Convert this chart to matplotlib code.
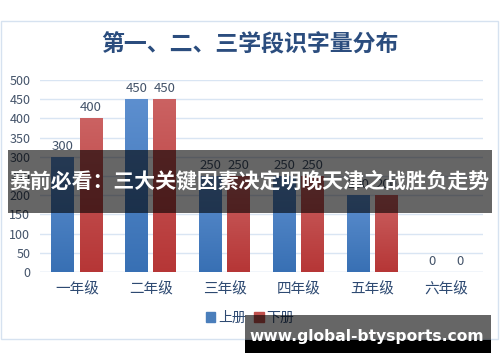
import matplotlib
matplotlib.use("Agg")
import matplotlib.pyplot as plt
import numpy as np
from matplotlib.patches import Rectangle
from matplotlib.colors import LinearSegmentedColormap

plt.rcParams['font.family'] = ['Noto Sans CJK SC', 'DejaVu Sans']

title = "第一、二、三学段识字量分布"
categories = ["一年级", "二年级", "三年级", "四年级", "五年级", "六年级"]
series_names = ["上册", "下册"]
upper = [300, 450, 250, 250, 200, 0]
lower = [400, 450, 250, 250, 200, 0]
yticks = [0, 50, 100, 150, 200, 250, 300, 350, 400, 450, 500]
banner_text = "赛前必看：三大关键因素决定明晚天津之战胜负走势"
watermark_text = "www.global-btysports.com"

W, H = 500, 362
fig = plt.figure(figsize=(W / 100, H / 100), dpi=100)
fig.patch.set_facecolor("white")

# chart frame
frame = Rectangle((1 / W, 1 - 339 / H), 497 / W, (339 - 21) / H, transform=fig.transFigure,
                  facecolor="white", edgecolor="#d6e2f0", linewidth=1.0, zorder=-5)
fig.patches.append(frame)

fig.text(0.5, 1 - 45 / H, title, ha="center", va="center", fontsize=16.5,
         color="#2b4d7e", fontweight="bold")

ax_left, ax_right = 40 / W, 483 / W
ax_top, ax_bot = 1 - 80 / H, 1 - 272 / H
ax = fig.add_axes([ax_left, ax_bot, ax_right - ax_left, ax_top - ax_bot])
ax.set_facecolor("none")
ax.set_ylim(0, 500)
ax.set_xlim(-0.5, len(categories) - 0.5)
ax.set_yticks(yticks)
ax.yaxis.grid(True, color="#d9e5f3", linewidth=1.0)
ax.set_axisbelow(True)
for s in ax.spines.values():
    s.set_visible(False)
ax.tick_params(axis="y", length=0, labelsize=9, labelcolor="#44546a", pad=7)
ax.tick_params(axis="x", length=0, labelsize=10.5, labelcolor="#2e4a72", pad=7)
ax.set_yticklabels([str(v) for v in yticks])
x = np.arange(len(categories))
ax.set_xticks(x)
ax.set_xticklabels(categories)
ax.axhline(0, color="#d9e5f3", linewidth=1.0)

bw = 0.31
off = 0.19
blue_cmap = LinearSegmentedColormap.from_list("b", ["#3870b4", "#5d8fcf"])
red_cmap = LinearSegmentedColormap.from_list("r", ["#b63636", "#cb6262"])
grad = np.linspace(0, 1, 256).reshape(-1, 1)
for vals, dx, cmap, name, lc in [(upper, -off, blue_cmap, series_names[0], "#4a7ebb"),
                                 (lower, off, red_cmap, series_names[1], "#c0504d")]:
    bars = ax.bar(x + dx, vals, width=bw, color=lc, label=name, zorder=2)
    for b, v in zip(bars, vals):
        if v > 0:
            b.set_facecolor("none")
            im = ax.imshow(grad, cmap=cmap, origin="lower", aspect="auto",
                           extent=[b.get_x(), b.get_x() + b.get_width(), 0, v], zorder=2)
            im.set_clip_path(b)
        ax.text(b.get_x() + b.get_width() / 2, v + 11, str(v), ha="center", va="bottom",
                fontsize=9.5, color="#44546a")
ax.set_xlim(-0.5, len(categories) - 0.5)
ax.set_ylim(0, 500)

leg = fig.legend(handles=[Rectangle((0, 0), 1, 1, color="#4a7ebb"),
                          Rectangle((0, 0), 1, 1, color="#c0504d")],
                 labels=series_names, loc="center", bbox_to_anchor=(0.5, 1 - 318 / H),
                 ncol=2, frameon=False, fontsize=10, handlelength=0.7, handleheight=0.7,
                 handletextpad=0.2, columnspacing=0.6, labelcolor="#2e4a72")

# banner overlay
fig.patches.append(Rectangle((8 / W, 1 - 213 / H), 484 / W, 63 / H, transform=fig.transFigure,
                             facecolor="black", alpha=0.6, edgecolor="none", zorder=10))
fig.text(0.5, 1 - 181 / H, banner_text, ha="center", va="center", fontsize=15,
         color="white", fontweight="bold", zorder=11)

# watermark
fig.patches.append(Rectangle((245 / W, 1 - 340 / H), 246 / W, 25 / H, transform=fig.transFigure,
                             facecolor="black", alpha=0.6, edgecolor="none", zorder=10))
fig.patches.append(Rectangle((245 / W, 1 - 353 / H), 246 / W, 13 / H, transform=fig.transFigure,
                             facecolor="black", edgecolor="none", zorder=10))
fig.text(367 / W, 1 - 337 / H, watermark_text, ha="center", va="center", fontsize=11.2,
         color="white", fontweight="bold", family="DejaVu Sans", zorder=11)

fig.savefig("out.png", dpi=100)
